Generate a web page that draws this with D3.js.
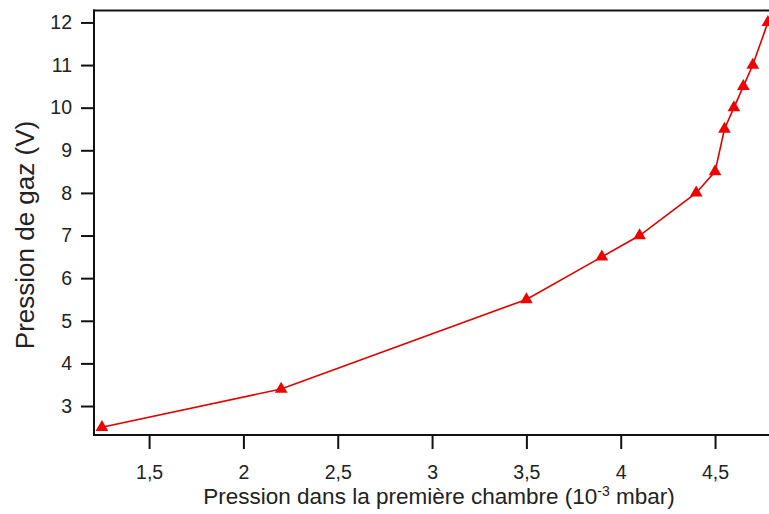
<!DOCTYPE html>
<html><head><meta charset="utf-8">
<script src="https://cdn.jsdelivr.net/npm/d3@7"></script>
<style>body{margin:0;background:#fff}svg{display:block}text{font-family:"Liberation Sans",Arial,sans-serif;fill:#222}</style>
</head><body>
<script>
const xValues = [1.25, 2.2, 3.5, 3.9, 4.1, 4.4, 4.5, 4.55, 4.6, 4.65, 4.7, 4.78];
const yValues = [2.5, 3.4, 5.5, 6.5, 7.0, 8.0, 8.5, 9.5, 10.0, 10.5, 11.0, 12.0];
const xTicks = [1.5, 2, 2.5, 3, 3.5, 4, 4.5];
const yTicks = [3, 4, 5, 6, 7, 8, 9, 10, 11, 12];

const W = 769, H = 514;
const svg = d3.select("body").append("svg").attr("width", W).attr("height", H);
const x = d3.scaleLinear().domain([1.208, 4.786]).range([94, 769]);
const y = d3.scaleLinear().domain([2.32, 12.28]).range([435, 10.5]);
const fmt = d => String(d).replace(".", ",");

const gx = svg.append("g").attr("transform", "translate(0,435)")
  .call(d3.axisBottom(x).tickValues(xTicks).tickFormat(fmt).tickSize(14).tickPadding(16).tickSizeOuter(0));
const gy = svg.append("g").attr("transform", "translate(94,0)")
  .call(d3.axisLeft(y).tickValues(yTicks).tickFormat(fmt).tickSize(13).tickPadding(9).tickSizeOuter(0));
[gx, gy].forEach(g => {
  g.attr("font-size", 19.5).attr("font-family", '"Liberation Sans",Arial,sans-serif');
  g.select(".domain").attr("stroke", "#111").attr("stroke-width", 2);
  g.selectAll(".tick line").attr("stroke", "#111").attr("stroke-width", 2);
  g.selectAll(".tick text").attr("font-size", 19.5).attr("fill", "#222");
});
gx.select(".domain").attr("d", "M93,0H769");
gy.select(".domain").attr("d", "M0,436V9.5");
// top border
svg.append("line").attr("x1", 93).attr("x2", 769).attr("y1", y.range()[1]).attr("y2", y.range()[1])
  .attr("stroke", "#111").attr("stroke-width", 2);

const pts = xValues.map((v, i) => [v, yValues[i]]);
svg.append("path").datum(pts)
  .attr("d", d3.line().x(d => x(d[0])).y(d => y(d[1])))
  .attr("fill", "none").attr("stroke", "#e00000").attr("stroke-width", 1.6);
svg.selectAll(".m").data(pts).enter().append("path")
  .attr("transform", d => `translate(${x(d[0])},${y(d[1])})`)
  .attr("d", d3.symbol().type(d3.symbolTriangle).size(70))
  .attr("fill", "#f00000");

svg.append("text").attr("x", 439).attr("y", 504).attr("text-anchor", "middle").attr("font-size", 22.5)
  .html('Pression dans la première chambre (10<tspan dy="-8" font-size="14">-3</tspan><tspan dy="8"> mbar)</tspan>');
svg.append("text").attr("transform", "translate(34,235) rotate(-90)").attr("text-anchor", "middle")
  .attr("font-size", 26).text("Pression de gaz (V)");
</script>
</body></html>
